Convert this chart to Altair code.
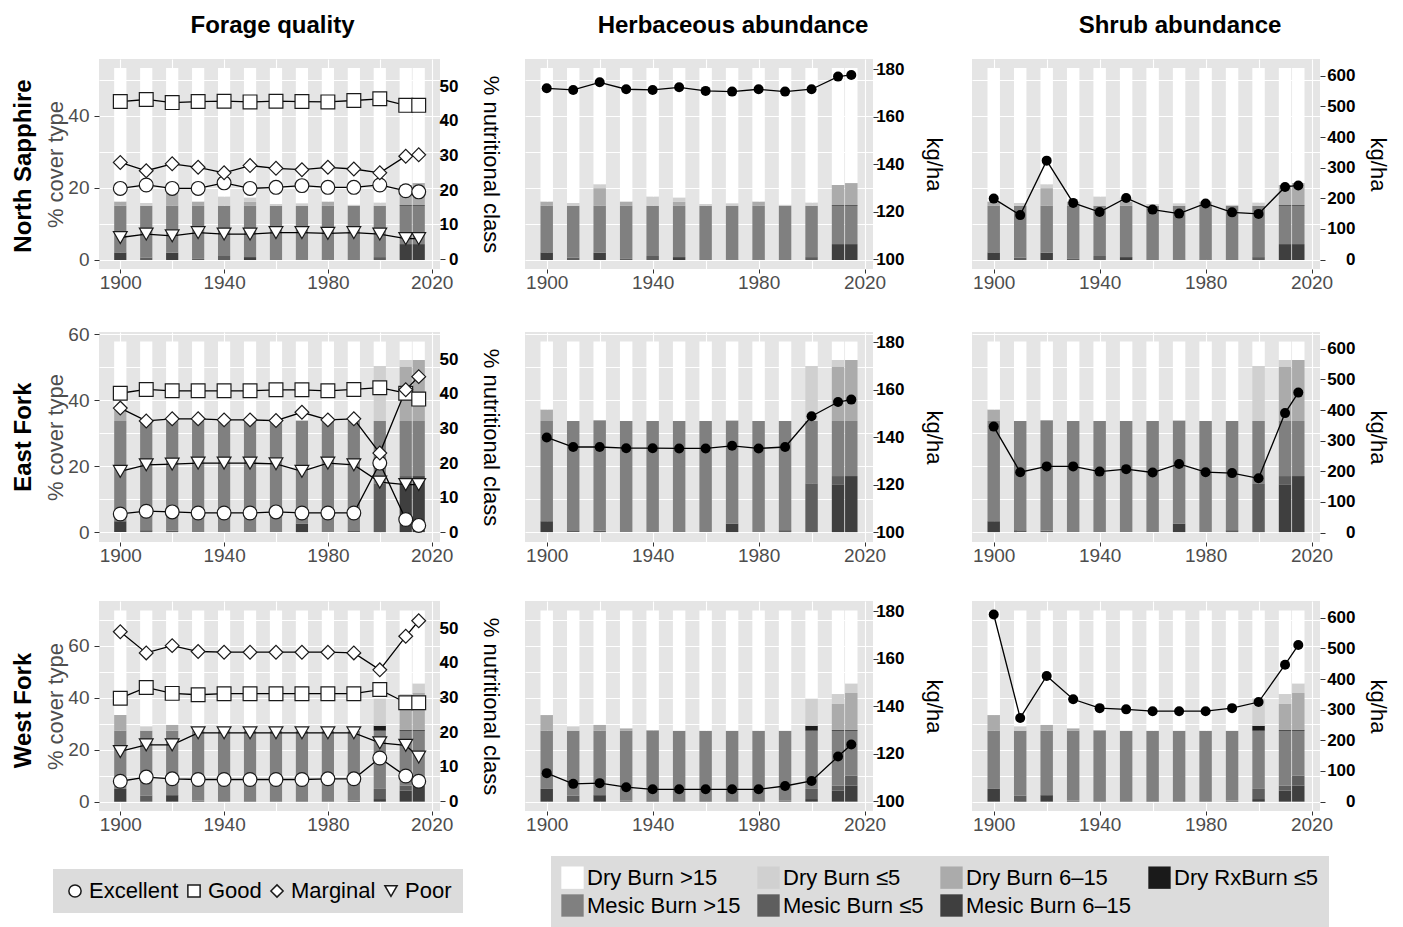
import altair as alt
import pandas as pd

YEARS = [1900, 1910, 1920, 1930, 1940, 1950, 1960, 1970, 1980, 1990, 2000, 2010, 2015]
ROWS = ["North Sapphire", "East Fork", "West Fork"]
COL_TITLES = ["Forage quality", "Herbaceous abundance", "Shrub abundance"]

COVER_TYPES = ["Dry Burn >15", "Dry Burn ≤5", "Dry Burn 6–15", "Dry RxBurn ≤5",
               "Mesic Burn >15", "Mesic Burn ≤5", "Mesic Burn 6–15"]
COVER_COLORS = ["#ffffff", "#d0d0d0", "#ababab", "#1a1a1a", "#808080", "#5e5e5e", "#3f3f3f"]
STACK_ORDER = ["Mesic Burn 6–15", "Mesic Burn ≤5", "Mesic Burn >15", "Dry RxBurn ≤5",
               "Dry Burn 6–15", "Dry Burn ≤5", "Dry Burn >15"]

CLASSES = ["Excellent", "Good", "Marginal", "Poor"]
CLASS_SHAPES = ["circle", "square", "diamond", "triangle-down"]

# ---------------- % cover type (bars) ----------------
NS_MESIC_6_15 = [2.1, 0, 2.0, 0, 0, 0.8, 0, 0, 0, 0, 0, 4.4, 4.4]
NS_MESIC_LE5 = [0, 0.7, 0, 0.3, 1.1, 0, 0, 0.2, 0.2, 0, 0.8, 0, 0]
NS_MESIC_GT15 = [12.9, 14.3, 13.0, 14.7, 13.9, 14.2, 15.0, 14.8, 14.8, 15.0, 14.2, 10.6, 10.6]
NS_DRY_RX = [0, 0, 0, 0, 0, 0, 0, 0, 0, 0, 0, 0.2, 0.2]
NS_DRY_6_15 = [1.2, 0, 4.9, 1.2, 0, 1.1, 0, 0, 1.2, 0, 0, 5.6, 6.1]
NS_DRY_LE5 = [0, 0.8, 1.1, 0, 2.6, 1.2, 0.5, 0.7, 0, 0.3, 0.9, 0, 0]
NS_DRY_GT15 = [37.0, 37.4, 32.2, 37.0, 35.6, 35.9, 37.7, 37.5, 37.0, 37.9, 37.3, 32.4, 31.9]

EF_MESIC_6_15 = [3.3, 0, 0, 0, 0, 0, 0, 2.6, 0, 0, 0, 14.5, 17.0]
EF_MESIC_LE5 = [0, 0.6, 0.5, 0, 0, 0, 0, 0, 0, 0.6, 14.8, 2.5, 0]
EF_MESIC_GT15 = [30.4, 33.1, 33.2, 33.7, 33.7, 33.7, 33.7, 31.1, 33.7, 33.1, 18.9, 16.7, 16.7]
EF_DRY_RX = [0, 0, 0, 0, 0, 0, 0, 0, 0, 0, 0, 0, 0]
EF_DRY_6_15 = [3.5, 0, 0.3, 0, 0, 0, 0, 0.2, 0, 0, 0, 16.5, 18.5]
EF_DRY_LE5 = [0, 0, 0, 0, 0, 0, 0, 0, 0, 0, 16.7, 2.0, 0]
EF_DRY_GT15 = [20.6, 24.1, 23.8, 24.1, 24.1, 24.1, 24.1, 23.9, 24.1, 24.1, 7.4, 5.6, 5.6]

WF_MESIC_6_15 = [4.9, 0, 2.5, 0, 0, 0, 0, 0, 0, 0, 1.0, 4.2, 6.2]
WF_MESIC_LE5 = [0, 2.3, 0, 0.3, 0, 0, 0, 0, 0, 0.3, 3.9, 2.0, 3.8]
WF_MESIC_GT15 = [22.4, 25.0, 24.8, 27.0, 27.3, 27.3, 27.3, 27.3, 27.3, 27.0, 22.4, 21.1, 17.3]
WF_DRY_RX = [0, 0, 0, 0, 0, 0, 0, 0, 0, 0, 1.9, 0.3, 0.3]
WF_DRY_6_15 = [6.0, 0, 2.2, 0.9, 0.3, 0, 0, 0, 0, 0, 0, 10.0, 14.2]
WF_DRY_LE5 = [0, 1.7, 0, 0, 0, 0, 0, 0, 0, 0, 10.5, 3.8, 3.7]
WF_DRY_GT15 = [40.2, 44.5, 44.0, 45.3, 45.9, 46.2, 46.2, 46.2, 46.2, 46.2, 33.8, 32.1, 28.0]

# ---------------- % nutritional class (forage quality) ----------------
NS_EXCELLENT = [20.5, 21.5, 20.5, 20.5, 22.1, 20.5, 20.8, 21.3, 20.8, 20.8, 21.5, 19.8, 19.5]
NS_GOOD = [45.6, 46.2, 45.3, 45.6, 45.7, 45.5, 45.7, 45.6, 45.5, 45.9, 46.4, 44.5, 44.5]
NS_MARGINAL = [28.0, 25.6, 27.6, 26.6, 25.0, 27.1, 26.3, 25.9, 26.6, 26.1, 25.0, 29.8, 30.2]
NS_POOR = [6.3, 7.3, 6.8, 7.7, 7.3, 7.3, 7.7, 7.7, 7.5, 7.7, 7.3, 6.0, 6.0]

EF_EXCELLENT = [5.3, 6.1, 5.9, 5.6, 5.6, 5.6, 5.9, 5.6, 5.6, 5.6, 20.0, 3.7, 2.0]
EF_GOOD = [40.2, 41.3, 40.9, 40.9, 40.9, 40.9, 41.2, 41.2, 40.9, 41.3, 41.8, 40.2, 38.5]
EF_MARGINAL = [35.9, 32.2, 32.8, 32.8, 32.5, 32.5, 32.3, 34.7, 32.5, 32.8, 22.9, 41.2, 45.0]
EF_POOR = [17.6, 19.5, 19.7, 20.0, 20.0, 20.0, 19.8, 17.6, 20.0, 19.5, 14.5, 13.8, 13.8]

WF_EXCELLENT = [5.8, 7.0, 6.5, 6.3, 6.3, 6.3, 6.3, 6.3, 6.5, 6.5, 12.5, 7.3, 5.8]
WF_GOOD = [29.8, 32.9, 31.2, 30.8, 31.1, 31.1, 31.1, 31.1, 31.1, 31.1, 32.3, 28.5, 28.5]
WF_MARGINAL = [49.0, 42.9, 45.0, 43.3, 43.1, 43.1, 43.1, 43.1, 43.1, 42.9, 38.0, 47.7, 52.2]
WF_POOR = [14.4, 16.3, 16.3, 19.8, 19.8, 19.8, 19.8, 19.8, 19.8, 19.8, 16.9, 16.2, 12.8]

# ---------------- kg/ha ----------------
NS_HERB = [171.9, 171.2, 174.4, 171.5, 171.2, 172.3, 170.8, 170.5, 171.5, 170.5, 171.5, 176.8, 177.5]
EF_HERB = [139.9, 135.9, 135.9, 135.4, 135.4, 135.3, 135.3, 136.4, 135.3, 135.9, 148.8, 154.8, 155.8]
WF_HERB = [111.9, 107.4, 107.7, 106.0, 105.1, 105.1, 105.1, 105.1, 105.1, 106.5, 108.6, 118.9, 123.9]

NS_SHRUB = [199, 145, 323, 185, 155, 201, 163, 150, 183, 154, 149, 237, 242]
EF_SHRUB = [346, 197, 216, 216, 199, 207, 196, 224, 197, 194, 177, 390, 457]
WF_SHRUB = [611, 273, 410, 334, 305, 301, 295, 295, 295, 305, 325, 447, 511]

# ---------------- axis setup ----------------
BAR_DOMAIN = {"North Sapphire": [-2.5, 55.7], "East Fork": [-3.0, 60.7], "West Fork": [-3.6, 77.2]}
BAR_GRID = {"North Sapphire": [0, 10, 20, 30, 40, 50],
            "East Fork": [0, 10, 20, 30, 40, 50, 60],
            "West Fork": [0, 10, 20, 30, 40, 50, 60, 70]}
NUT_DOMAIN = [-2.8, 57.9]
NUT_TICKS = [0, 10, 20, 30, 40, 50]
HERB_DOMAIN = [96, 184.2]
HERB_TICKS = [100, 120, 140, 160, 180]
SHRUB_DOMAIN = [-31, 655]
SHRUB_TICKS = [0, 100, 200, 300, 400, 500, 600]
X_DOMAIN = [1891.8, 2023.2]
X_GRID = [1900, 1920, 1940, 1960, 1980, 2000, 2020]

cover_series = {
    "North Sapphire": dict(zip(STACK_ORDER, [NS_MESIC_6_15, NS_MESIC_LE5, NS_MESIC_GT15, NS_DRY_RX,
                                             NS_DRY_6_15, NS_DRY_LE5, NS_DRY_GT15])),
    "East Fork": dict(zip(STACK_ORDER, [EF_MESIC_6_15, EF_MESIC_LE5, EF_MESIC_GT15, EF_DRY_RX,
                                        EF_DRY_6_15, EF_DRY_LE5, EF_DRY_GT15])),
    "West Fork": dict(zip(STACK_ORDER, [WF_MESIC_6_15, WF_MESIC_LE5, WF_MESIC_GT15, WF_DRY_RX,
                                        WF_DRY_6_15, WF_DRY_LE5, WF_DRY_GT15])),
}
class_series = {
    "North Sapphire": dict(zip(CLASSES, [NS_EXCELLENT, NS_GOOD, NS_MARGINAL, NS_POOR])),
    "East Fork": dict(zip(CLASSES, [EF_EXCELLENT, EF_GOOD, EF_MARGINAL, EF_POOR])),
    "West Fork": dict(zip(CLASSES, [WF_EXCELLENT, WF_GOOD, WF_MARGINAL, WF_POOR])),
}
herb_series = {"North Sapphire": NS_HERB, "East Fork": EF_HERB, "West Fork": WF_HERB}
shrub_series = {"North Sapphire": NS_SHRUB, "East Fork": EF_SHRUB, "West Fork": WF_SHRUB}


def bar_frame(row):
    recs = []
    for k, cov in enumerate(STACK_ORDER):
        for yr, v in zip(YEARS, cover_series[row][cov]):
            recs.append({"year": yr, "cover": cov, "value": v, "ord": k})
    return pd.DataFrame(recs)


def class_frame(row):
    recs = []
    for cls in CLASSES:
        for yr, v in zip(YEARS, class_series[row][cls]):
            recs.append({"year": yr, "cls": cls, "value": v})
    return pd.DataFrame(recs)


FONT = "Liberation Sans"
GRAY = "#4d4d4d"

x_scale = alt.Scale(domain=X_DOMAIN, nice=False, zero=False)
x_axis = alt.Axis(values=X_GRID, format="d", title=None, grid=True, gridColor="white", gridWidth=1.1,
                  labelExpr="datum.value % 40 == 20 ? datum.label : ''",
                  tickOpacity={"condition": {"test": "datum.value % 40 == 20", "value": 1}, "value": 0},
                  domain=False, tickSize=4, tickColor="#333333", labelPadding=0,
                  labelFontSize=19, labelColor=GRAY, labelFont=FONT)

fill_legend = alt.Legend(orient="none", legendX=452, legendY=797, title=None, columns=4,
                         direction="horizontal", symbolType="square", symbolSize=500,
                         symbolStrokeWidth=0, labelFontSize=22, labelFont=FONT, labelColor="black",
                         labelLimit=400, fillColor="#dcdcdc", padding=10, columnPadding=16,
                         rowPadding=5, labelOffset=3, symbolOpacity=1)
shape_legend = alt.Legend(orient="none", legendX=-46, legendY=810, title=None,
                          direction="horizontal", symbolSize=150, labelFontSize=22,
                          labelFont=FONT, labelColor="black", fillColor="#dcdcdc", padding=11,
                          columnPadding=4, labelOffset=3, symbolOpacity=1)


def right_axis(values, title, pad, tpad):
    return alt.Axis(values=values, orient="right", title=title, grid=False, domain=False,
                    tickSize=5, tickColor="#333333", labelAlign="right", labelPadding=pad,
                    labelFontSize=17, labelFontWeight="bold", labelColor="black", labelFont=FONT,
                    titleFontSize=22, titleFontWeight="normal", titleColor="black", titleFont=FONT,
                    titlePadding=tpad)


def panel(row, col, width):
    bdf = bar_frame(row)
    if col == 0:
        bar_axis = alt.Axis(values=BAR_GRID[row], title="% cover type", grid=True, gridColor="white",
                            gridWidth=1.1, domain=False, tickSize=5, tickColor="#333333",
                            labelExpr="datum.value % 20 == 0 ? datum.label : ''",
                            tickOpacity={"condition": {"test": "datum.value % 20 == 0", "value": 1}, "value": 0},
                            labelPadding=5, labelFontSize=19, labelColor=GRAY, labelFont=FONT,
                            titleFontSize=22, titleFontWeight="normal", titleColor=GRAY,
                            titleFont=FONT, titlePadding=0)
    else:
        bar_axis = alt.Axis(values=BAR_GRID[row], title=None, grid=True, gridColor="white",
                            gridWidth=1.1, domain=False, ticks=False, labels=False,
                            minExtent=0, maxExtent=0)
    bars = alt.Chart(bdf).transform_stack(
        stack="value", groupby=["year"], as_=["y0", "y1"],
        sort=[alt.SortField("ord", order="ascending")]
    ).transform_calculate(
        x0="datum.year - 2.35", x1="datum.year + 2.35"
    ).mark_bar().encode(
        x=alt.X("x0:Q", scale=x_scale, axis=x_axis),
        x2="x1:Q",
        y=alt.Y("y0:Q", scale=alt.Scale(domain=BAR_DOMAIN[row], nice=False, zero=False), axis=bar_axis),
        y2="y1:Q",
        fill=alt.Fill("cover:N", scale=alt.Scale(domain=COVER_TYPES, range=COVER_COLORS),
                      legend=fill_legend),
    )
    if col == 0:
        cdf = class_frame(row)
        y_enc = alt.Y("value:Q", scale=alt.Scale(domain=NUT_DOMAIN, nice=False, zero=False),
                      axis=right_axis(NUT_TICKS, "% nutritional class", 13, 20))
        line = alt.Chart(cdf).mark_line(color="black", strokeWidth=1.3).encode(
            x=alt.X("year:Q", scale=x_scale, axis=x_axis), y=y_enc, detail="cls:N")
        pts = alt.Chart(cdf).mark_point(filled=False, fillOpacity=1, size=190, opacity=1).encode(
            x=alt.X("year:Q", scale=x_scale, axis=x_axis), y=y_enc,
            stroke=alt.value("#1a1a1a"), fill=alt.value("white"), strokeWidth=alt.value(1.2),
            shape=alt.Shape("cls:N", scale=alt.Scale(domain=CLASSES, range=CLASS_SHAPES),
                            legend=shape_legend))
    else:
        vals = herb_series[row] if col == 1 else shrub_series[row]
        dom = HERB_DOMAIN if col == 1 else SHRUB_DOMAIN
        ticks = HERB_TICKS if col == 1 else SHRUB_TICKS
        pad, tpad = (26, 17) if col == 1 else (30, 10)
        ldf = pd.DataFrame({"year": YEARS, "value": vals})
        y_enc = alt.Y("value:Q", scale=alt.Scale(domain=dom, nice=False, zero=False),
                      axis=right_axis(ticks, "kg/ha", pad, tpad))
        line = alt.Chart(ldf).mark_line(color="black", strokeWidth=1.3).encode(
            x=alt.X("year:Q", scale=x_scale, axis=x_axis), y=y_enc)
        pts = alt.Chart(ldf).mark_circle(color="black", size=100, opacity=1).encode(
            x=alt.X("year:Q", scale=x_scale, axis=x_axis), y=y_enc)
    ch = alt.layer(bars, alt.layer(line, pts)).resolve_scale(y="independent")
    props = dict(width=width, height=210)
    if row == ROWS[0]:
        dx = [3, 34, 34][col]
        props["title"] = alt.TitleParams(COL_TITLES[col], anchor="middle", frame="group",
                                         fontSize=24, fontWeight="bold", font=FONT,
                                         color="black", offset=21, dx=dx)
    return ch.properties(**props)


ROW_DX = {"North Sapphire": -13, "East Fork": 8, "West Fork": 7}
rows = []
for row in ROWS:
    inner = alt.hconcat(panel(row, 0, 341), panel(row, 1, 348), spacing=24)
    r = alt.hconcat(inner, panel(row, 2, 348), spacing=28).properties(
        title=alt.TitleParams(row, orient="left", anchor="middle", frame="bounds", fontSize=24,
                              fontWeight="bold", font=FONT, color="black", offset=9,
                              dx=ROW_DX[row]))
    rows.append(r)

top_two = alt.vconcat(rows[0], rows[1], spacing=33)
chart = alt.vconcat(top_two, rows[2], spacing=36).properties(
    padding={"left": 11, "top": 14, "right": 5, "bottom": 0}
).configure(font=FONT).configure_view(fill="#e5e5e5", stroke=None)

chart.save("out.html", embed_options={"renderer": "svg", "actions": False})
